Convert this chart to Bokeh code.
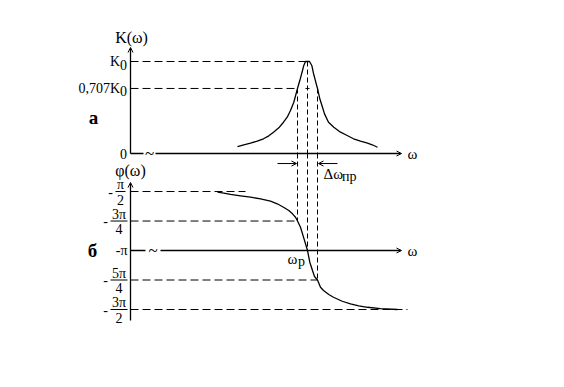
from bokeh.plotting import figure
from bokeh.models import Range1d, Arrow, OpenHead
from bokeh.core.properties import value
from bokeh.embed import file_html
from bokeh.resources import INLINE

# ---------------- data ----------------
# frequency axis: arbitrary units, origin at the vertical axes
w_res = 17.7             # resonance frequency  ω_р
w_lo, w_hi = 16.7, 18.7  # band edges (0.707 K0)

# amplitude response K(ω)/K0
amp_w = [10.7, 11.33, 12.0, 12.67, 13.3, 13.83, 14.3, 14.83, 15.3, 15.67, 16.0, 16.33,
         16.7, 16.93, 17.2, 17.33, 17.5, 17.7, 17.9, 18.13, 18.3, 18.53, 18.7, 18.93,
         19.2, 19.4, 19.8, 20.33, 21.0, 21.67, 22.3, 23.0, 23.7, 24.17, 24.7]
amp_k = [0.076, 0.095, 0.112, 0.134, 0.160, 0.192, 0.232, 0.279, 0.340, 0.395, 0.467,
         0.557, 0.707, 0.793, 0.902, 0.957, 1.0, 1.0, 1.0, 0.957, 0.870, 0.775, 0.707,
         0.595, 0.503, 0.431, 0.340, 0.286, 0.232, 0.196, 0.160, 0.134, 0.112, 0.095,
         0.068]

# phase response φ(ω) in units of π
ph_w = [8.7, 9.33, 10.0, 11.0, 12.0, 13.0, 14.0, 14.67, 15.3, 15.83, 16.2, 16.5, 16.7,
        17.0, 17.3, 17.5, 17.7, 17.93, 18.2, 18.4, 18.7, 19.0, 19.3, 19.83, 20.3, 21.17,
        22.0, 22.83, 23.7, 25.0, 26.7]
ph_v = [-0.506, -0.514, -0.525, -0.536, -0.548, -0.562, -0.582, -0.604, -0.633, -0.661,
        -0.689, -0.718, -0.75, -0.803, -0.887, -0.943, -1.0, -1.099, -1.169, -1.220,
        -1.25, -1.311, -1.339, -1.373, -1.396, -1.430, -1.452, -1.469, -1.481, -1.492,
        -1.50]

# reference levels
k_levels = [1.0, 0.707]
k_level_ends = [w_res, w_lo]
ph_levels = [-0.5, -0.75, -1.25, -1.5]
ph_level_ends = [11.5, w_lo, w_hi, 27.7]
ph_num = ["π", "3π", "5π", "3π"]
ph_den = ["2", "4", "4", "2"]

FONT = value("Liberation Serif")

# ---------------- figure ----------------
kr = Range1d(-2.543, 1.663)
pr = Range1d(-2.161, 1.119)
p = figure(width=564, height=387, x_range=Range1d(-13.0, 43.4), y_range=kr,
           x_axis_location=None, y_axis_location=None, toolbar_location=None,
           min_border=0, outline_line_color=None, output_backend="svg",
           background_fill_color="white", border_fill_color="white")
p.extra_y_ranges = {"phase": pr}
p.grid.visible = False


def k_to_phase(k):
    return pr.start + (k - kr.start) / (kr.end - kr.start) * (pr.end - pr.start)


phi_at_k0 = k_to_phase(0.0)
LW = 1.3

# ---------- top panel: amplitude ----------
p.add_layout(Arrow(x_start=0, y_start=0, x_end=0, y_end=1.152, line_width=LW,
                   end=OpenHead(size=5, line_width=1)))
p.segment(x0=[0], y0=[0], x1=[1.3], y1=[0], line_width=LW, line_color="black")
p.add_layout(Arrow(x_start=2.5, y_start=0, x_end=27.1, y_end=0, line_width=LW,
                   end=OpenHead(size=5, line_width=1)))
p.text(x=[1.9], y=[0], text=["~"], text_font=FONT, text_font_size="17px",
       text_align="center", text_baseline="middle")
p.text(x=[27.7], y=[0], text=["ω"], text_font=FONT, text_font_size="15px",
       text_align="left", text_baseline="middle")

p.segment(x0=[0] * len(k_levels), y0=k_levels, x1=k_level_ends, y1=k_levels,
          line_dash="8 4", line_width=1, line_color="black")
p.segment(x0=[17.5], y0=[0.707], x1=[17.9], y1=[0.707], line_width=1, line_color="black")

p.segment(x0=[w_lo, w_res, w_hi], y0=[0.707, 1.0, 0.707], x1=[w_lo, w_res, w_hi],
          y1=[0, 0, 0], line_dash="5 3", line_width=1, line_color="black")

p.line(amp_w, amp_k, line_width=LW, line_color="black")

p.add_layout(Arrow(x_start=14.7, y_start=-0.109, x_end=16.6, y_end=-0.109, line_width=1,
                   end=OpenHead(size=5, line_width=1)))
p.add_layout(Arrow(x_start=20.7, y_start=-0.109, x_end=18.8, y_end=-0.109, line_width=1,
                   end=OpenHead(size=5, line_width=1)))
p.text(x=[19.3], y=[-0.228], text=["Δω"], text_font=FONT, text_font_size="15px",
       text_align="left", text_baseline="middle")
p.text(x=[21.15], y=[-0.228], y_offset=[2], text=["пр"], text_font=FONT,
       text_font_size="14px", text_align="left", text_baseline="middle")

p.text(x=[-0.35, -0.35], y=k_levels, x_offset=[-7, -7], text=["K", "0,707K"],
       text_font=FONT, text_font_size="14px", text_align="right", text_baseline="middle")
p.text(x=[-0.35, -0.35], y=k_levels, y_offset=[3, 3], text=["0", "0"],
       text_font=FONT, text_font_size="14px", text_align="right", text_baseline="middle")
p.text(x=[-0.35], y=[0], text=["0"], text_font=FONT, text_font_size="14px",
       text_align="right", text_baseline="middle")
p.text(x=[0.1], y=[1.26], text=["K(ω)"], text_font=FONT, text_font_size="16px",
       text_align="center", text_baseline="middle")
p.text(x=[-3.7], y=[0.39], text=["а"], text_font=FONT, text_font_size="19px",
       text_font_style="bold", text_align="center", text_baseline="middle")

# ---------- bottom panel: phase ----------
p.add_layout(Arrow(x_start=0, y_start=-1.593, x_end=0, y_end=-0.424, line_width=LW,
                   y_range_name="phase", end=OpenHead(size=5, line_width=1)))
p.segment(x0=[0], y0=[-1], x1=[1.5], y1=[-1], line_width=LW, line_color="black",
          y_range_name="phase")
p.add_layout(Arrow(x_start=3.0, y_start=-1, x_end=27.1, y_end=-1, line_width=LW,
                   y_range_name="phase", end=OpenHead(size=5, line_width=1)))
p.text(x=[2.25], y=[-1], text=["~"], text_font=FONT, text_font_size="17px",
       text_align="center", text_baseline="middle", y_range_name="phase")
p.text(x=[27.7], y=[-1], text=["ω"], text_font=FONT, text_font_size="15px",
       text_align="left", text_baseline="middle", y_range_name="phase")

p.segment(x0=[0] * len(ph_levels), y0=ph_levels, x1=ph_level_ends, y1=ph_levels,
          line_dash="8 4", line_width=1, line_color="black", y_range_name="phase")

p.segment(x0=[w_lo, w_res, w_hi], y0=[phi_at_k0] * 3, x1=[w_lo, w_res, w_hi],
          y1=[-0.75, -1.0, -1.25], line_dash="5 3", line_width=1, line_color="black",
          y_range_name="phase")

p.line(ph_w, ph_v, line_width=LW, line_color="black", y_range_name="phase")

p.segment(x0=[-1.5, -2.0, -2.0, -2.0], y0=ph_levels, x1=[-0.5, -0.3, -0.3, -0.3],
          y1=ph_levels, line_width=1, line_color="black", y_range_name="phase")
num_x = [-1.0, -1.15, -1.15, -1.15]
p.text(x=num_x, y=ph_levels, y_offset=[-7] * 4, text=ph_num, text_font=FONT,
       text_font_size="14px", text_align="center", text_baseline="middle",
       y_range_name="phase")
p.text(x=num_x, y=ph_levels, y_offset=[8] * 4, text=ph_den, text_font=FONT,
       text_font_size="14px", text_align="center", text_baseline="middle",
       y_range_name="phase")
p.text(x=[-2.0, -2.5, -2.5, -2.5], y=ph_levels, text=["-"] * 4, text_font=FONT,
       text_font_size="14px", text_align="center", text_baseline="middle",
       y_range_name="phase")
p.text(x=[-0.3], y=[-1], text=["-π"], text_font=FONT, text_font_size="14px",
       text_align="right", text_baseline="middle", y_range_name="phase")
p.text(x=[0.0], y=[-0.322], text=["φ(ω)"], text_font=FONT, text_font_size="16px",
       text_align="center", text_baseline="middle", y_range_name="phase")
p.text(x=[-3.8], y=[-1], text=["б"], text_font=FONT, text_font_size="19px",
       text_font_style="bold", text_align="center", text_baseline="middle",
       y_range_name="phase")
p.text(x=[16.2], y=[-1.068], text=["ω"], text_font=FONT, text_font_size="15px",
       text_align="center", text_baseline="middle", y_range_name="phase")
p.text(x=[16.75], y=[-1.068], y_offset=[3], text=["р"], text_font=FONT,
       text_font_size="14px", text_align="left", text_baseline="middle",
       y_range_name="phase")

open("out.html", "w").write(file_html(p, INLINE))
